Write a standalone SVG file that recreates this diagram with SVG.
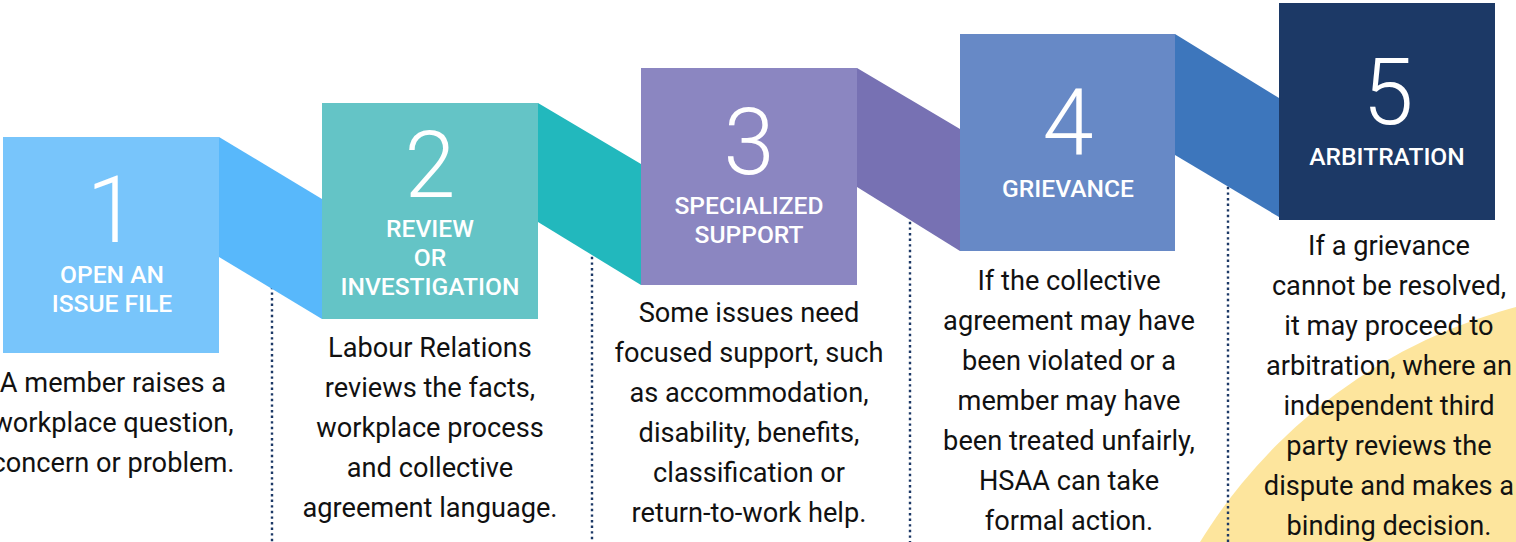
<svg xmlns="http://www.w3.org/2000/svg" width="1516" height="542" viewBox="0 0 1516 542">
<style>
.num{font-family:Roboto,"Liberation Sans",sans-serif;font-weight:300;font-size:92px;fill:#ffffff;text-anchor:middle}
.lbl{font-family:Roboto,"Liberation Sans",sans-serif;font-weight:500;font-size:24.6px;fill:#ffffff;text-anchor:middle}
.desc{font-family:Roboto,"Liberation Sans",sans-serif;font-weight:400;font-size:27.2px;fill:#111111;text-anchor:middle}
.dot{stroke:#1c3866;stroke-width:2.4;stroke-dasharray:2.4 3.2;fill:none}
</style>
<rect width="1516" height="542" fill="#ffffff"/>
<circle cx="1653" cy="821" r="532" fill="#fde59d"/>
<g id="connectors">
<line class="dot" x1="272" y1="270" x2="272" y2="542"/>
<line class="dot" x1="592" y1="240" x2="592" y2="542"/>
<line class="dot" x1="910" y1="205" x2="910" y2="542"/>
<line class="dot" x1="1228" y1="170" x2="1228" y2="542"/>
<polygon points="219,137 322,199 322,319 219,257" fill="#58b8fb"/>
<polygon points="538,103 641,164 641,285 538,222" fill="#22b8bd"/>
<polygon points="857,68 960,129 960,251 857,187" fill="#7771b3"/>
<polygon points="1175,34 1279,98 1279,217 1175,155" fill="#3d76bc"/>
</g>
<g id="step1">
<rect x="3" y="137" width="216" height="216" fill="#78c5fb"/>
<text class="num" x="112" y="242">1</text>
<text class="lbl" x="112" y="283">OPEN AN</text>
<text class="lbl" x="112" y="312">ISSUE FILE</text>
<text class="desc" x="113" y="392">A member raises a</text>
<text class="desc" x="113" y="432">workplace question,</text>
<text class="desc" x="113" y="472">concern or problem.</text>
</g>
<g id="step2">
<rect x="322" y="103" width="216" height="216" fill="#64c4c6"/>
<text class="num" x="430" y="197">2</text>
<text class="lbl" x="430" y="237">REVIEW</text>
<text class="lbl" x="430" y="266">OR</text>
<text class="lbl" x="430" y="295">INVESTIGATION</text>
<text class="desc" x="430" y="357">Labour Relations</text>
<text class="desc" x="430" y="397">reviews the facts,</text>
<text class="desc" x="430" y="437">workplace process</text>
<text class="desc" x="430" y="477">and collective</text>
<text class="desc" x="430" y="517">agreement language.</text>
</g>
<g id="step3">
<rect x="641" y="68" width="216" height="217" fill="#8b86c1"/>
<text class="num" x="749" y="174">3</text>
<text class="lbl" x="749" y="214">SPECIALIZED</text>
<text class="lbl" x="749" y="243">SUPPORT</text>
<text class="desc" x="749" y="322">Some issues need</text>
<text class="desc" x="749" y="362">focused support, such</text>
<text class="desc" x="749" y="402">as accommodation,</text>
<text class="desc" x="749" y="442">disability, benefits,</text>
<text class="desc" x="749" y="482">classification or</text>
<text class="desc" x="749" y="522">return-to-work help.</text>
</g>
<g id="step4">
<rect x="960" y="34" width="215" height="217" fill="#6789c6"/>
<text class="num" x="1068" y="155">4</text>
<text class="lbl" x="1068" y="197">GRIEVANCE</text>
<text class="desc" x="1069" y="290">If the collective</text>
<text class="desc" x="1069" y="330">agreement may have</text>
<text class="desc" x="1069" y="370">been violated or a</text>
<text class="desc" x="1069" y="410">member may have</text>
<text class="desc" x="1069" y="450">been treated unfairly,</text>
<text class="desc" x="1069" y="490">HSAA can take</text>
<text class="desc" x="1069" y="530">formal action.</text>
</g>
<g id="step5">
<rect x="1279" y="3" width="216" height="217" fill="#1c3966"/>
<text class="num" x="1388" y="124">5</text>
<text class="lbl" x="1387" y="165">ARBITRATION</text>
<text class="desc" x="1389" y="255">If a grievance</text>
<text class="desc" x="1389" y="295">cannot be resolved,</text>
<text class="desc" x="1389" y="335">it may proceed to</text>
<text class="desc" x="1389" y="375">arbitration, where an</text>
<text class="desc" x="1389" y="415">independent third</text>
<text class="desc" x="1389" y="455">party reviews the</text>
<text class="desc" x="1389" y="495">dispute and makes a</text>
<text class="desc" x="1389" y="535">binding decision.</text>
</g>
</svg>
